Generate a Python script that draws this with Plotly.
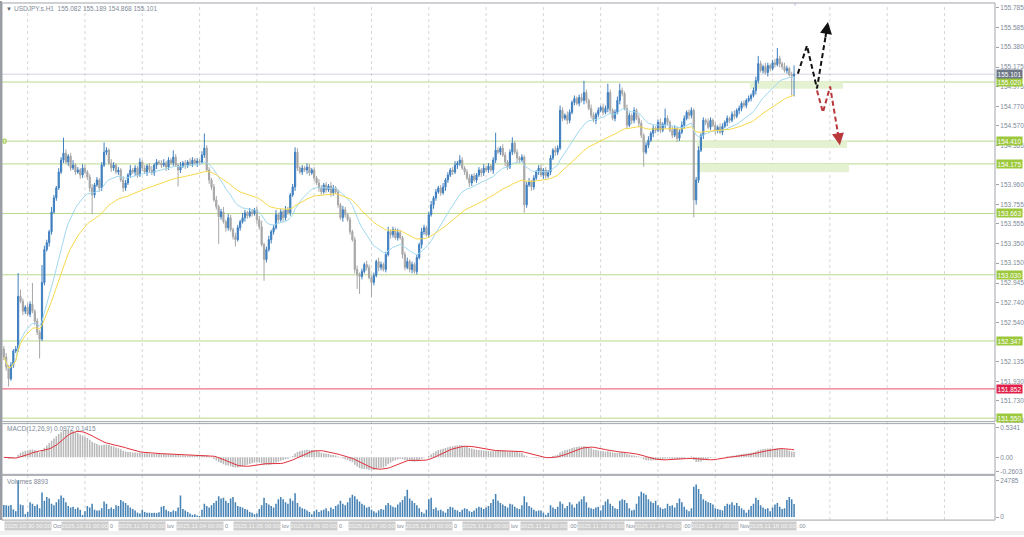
import pandas as pd
import plotly.graph_objects as go

W, H = 1024, 537
FONT = "Liberation Sans, Arial, sans-serif"

TITLE_TEXT = "USDJPY.s.H1  155.082 155.189 154.868 155.101"
MACD_TEXT = "MACD(12,26,9) 0.0972 0.1415"
VOLUME_TEXT = "Volumes 8893"

DAYS = ["2025.10.30", "2025.10.31", "2025.11.03", "2025.11.04", "2025.11.05", "2025.11.06",
        "2025.11.07", "2025.11.10", "2025.11.11", "2025.11.12", "2025.11.13", "2025.11.14",
        "2025.11.17", "2025.11.18"]
DAY_TAILS = ["Oct 0", "0", "lov", "0", "lov", "0", "lov", "0", "lov", ":00", "Nov", ":00", "Nov", ":00"]
BARS_PER_DAY = 24

FIRST_OPEN = 152.264
CLOSE = [
    152.181, 152.079, 151.956, 152.099, 152.243, 152.264, 152.808, 152.756, 152.654, 152.695, 152.623, 152.726,
    152.654, 152.551, 152.438, 152.366, 152.951, 153.290, 153.362, 153.475, 153.680, 153.824, 153.927, 154.091,
    154.214, 154.286, 154.194, 154.255, 154.132, 154.163, 154.091, 154.112, 154.060, 154.132, 154.091, 154.040,
    153.927, 153.855, 153.958, 154.009, 153.927, 154.163, 154.296, 154.317, 154.184, 154.132, 154.163, 154.091,
    154.112, 154.009, 153.927, 153.978, 154.060, 154.112, 154.091, 154.132, 154.060, 154.194, 154.132, 154.091,
    154.153, 154.112, 154.081, 154.163, 154.194, 154.184, 154.163, 154.184, 154.142, 154.214, 154.184, 154.245,
    154.163, 154.112, 154.153, 154.184, 154.163, 154.194, 154.173, 154.214, 154.184, 154.204, 154.194, 154.266,
    154.338, 154.112, 154.009, 153.937, 153.804, 153.732, 153.629, 153.680, 153.578, 153.516, 153.619, 153.496,
    153.424, 153.393, 153.516, 153.578, 153.619, 153.670, 153.639, 153.680, 153.660, 153.701, 153.598, 153.526,
    153.342, 153.188, 153.290, 153.393, 153.475, 153.516, 153.650, 153.598, 153.680, 153.619, 153.701, 153.670,
    153.855, 153.937, 154.296, 154.132, 154.091, 154.132, 154.112, 154.142, 154.081, 154.112, 154.029, 153.978,
    153.927, 153.886, 153.958, 153.906, 153.947, 153.876, 153.927, 153.886, 153.752, 153.619, 153.701, 153.650,
    153.598, 153.475, 153.393, 153.085, 153.034, 153.013, 153.064, 153.136, 153.106, 153.003, 152.951, 153.023,
    153.167, 153.106, 153.136, 153.085, 153.239, 153.475, 153.444, 153.496, 153.413, 153.465, 153.413, 153.239,
    153.106, 153.167, 153.085, 153.136, 153.064, 153.208, 153.342, 153.475, 153.516, 153.444, 153.650, 153.752,
    153.824, 153.886, 153.927, 153.876, 153.937, 154.009, 154.060, 154.112, 154.091, 154.163, 154.184, 154.214,
    154.132, 154.091, 154.029, 153.978, 154.050, 154.009, 154.060, 154.112, 154.081, 154.132, 154.112, 154.153,
    154.112, 154.214, 154.317, 154.296, 154.338, 154.266, 154.194, 154.142, 154.296, 154.389, 154.296, 154.235,
    154.214, 154.245, 153.752, 153.958, 153.988, 153.937, 154.029, 154.091, 154.132, 154.060, 154.112, 154.050,
    154.091, 154.235, 154.317, 154.296, 154.338, 154.728, 154.645, 154.676, 154.625, 154.707, 154.810, 154.851,
    154.800, 154.861, 154.830, 154.912, 154.830, 154.748, 154.676, 154.625, 154.687, 154.728, 154.758, 154.707,
    154.748, 154.912, 154.728, 154.645, 154.707, 154.830, 154.933, 154.902, 154.748, 154.574, 154.676, 154.625,
    154.728, 154.645, 154.594, 154.471, 154.296, 154.368, 154.420, 154.491, 154.543, 154.522, 154.604, 154.522,
    154.584, 154.645, 154.604, 154.522, 154.471, 154.543, 154.440, 154.502, 154.574, 154.645, 154.707, 154.676,
    154.728, 153.804, 154.009, 154.317, 154.471, 154.625, 154.604, 154.553, 154.625, 154.574, 154.522, 154.553,
    154.502, 154.563, 154.604, 154.645, 154.625, 154.687, 154.666, 154.728, 154.748, 154.800, 154.779, 154.830,
    154.851, 154.882, 154.933, 155.036, 155.210, 155.138, 155.179, 155.118, 155.190, 155.159, 155.220, 155.200,
    155.262, 155.210, 155.179, 155.138, 155.159, 155.097, 155.082, 155.101,
]
# wick lengths, in hundredths of a yen
WICK_UP = [
    3, 4, 2, 3, 2, 3, 24, 7, 3, 2, 4, 3, 22, 2, 3, 2, 18, 4, 3, 2, 5, 3, 2, 4,
    3, 16, 4, 2, 3, 5, 2, 3, 2, 4, 3, 2, 3, 4, 2, 3, 2, 3, 10, 3, 2, 4, 3, 2,
    3, 2, 4, 3, 2, 5, 2, 3, 2, 4, 2, 3, 2, 3, 4, 2, 3, 2, 3, 4, 2, 3, 2, 7,
    3, 2, 4, 2, 3, 2, 4, 3, 2, 3, 2, 4, 15, 3, 3, 2, 3, 4, 2, 3, 5, 2, 4, 3,
    2, 4, 3, 2, 5, 3, 2, 4, 3, 2, 3, 4, 6, 2, 3, 4, 2, 3, 5, 2, 3, 2, 4, 3,
    2, 3, 5, 4, 2, 3, 2, 4, 3, 2, 3, 2, 4, 3, 2, 3, 2, 4, 3, 2, 3, 2, 4, 3,
    2, 3, 2, 3, 4, 2, 3, 2, 4, 3, 2, 3, 2, 4, 3, 2, 3, 5, 2, 3, 2, 4, 3, 2,
    3, 4, 2, 3, 2, 3, 2, 4, 3, 2, 3, 4, 2, 3, 2, 3, 4, 2, 3, 2, 3, 4, 2, 5,
    3, 2, 3, 4, 2, 3, 2, 3, 2, 4, 2, 3, 2, 3, 18, 3, 2, 4, 3, 2, 3, 6, 2, 3,
    2, 3, 2, 3, 4, 2, 3, 2, 3, 4, 2, 3, 2, 3, 2, 4, 3, 5, 3, 2, 4, 3, 2, 3,
    2, 3, 4, 12, 3, 2, 4, 3, 2, 3, 2, 4, 3, 9, 3, 2, 3, 4, 7, 3, 2, 4, 3, 2,
    3, 2, 4, 3, 2, 3, 4, 2, 3, 2, 3, 4, 2, 10, 3, 2, 4, 3, 2, 3, 4, 3, 2, 3,
    3, 2, 3, 4, 2, 3, 2, 4, 3, 2, 3, 2, 4, 3, 2, 3, 2, 3, 4, 2, 3, 2, 3, 2,
    3, 2, 3, 4, 8, 3, 2, 4, 3, 2, 3, 4, 11, 3, 2, 4, 3, 2, 3, 9,
]
WICK_DN = [
    3, 4, 8, 2, 3, 2, 3, 2, 4, 3, 2, 3, 2, 4, 3, 20, 2, 3, 2, 4, 3, 2, 3, 2,
    2, 3, 2, 4, 3, 2, 3, 2, 4, 3, 2, 3, 4, 20, 3, 2, 4, 3, 2, 3, 2, 4, 3, 2,
    3, 2, 4, 3, 2, 3, 2, 4, 3, 2, 3, 2, 4, 3, 2, 3, 4, 2, 3, 2, 4, 3, 2, 3,
    2, 17, 3, 2, 4, 3, 2, 3, 2, 4, 3, 2, 3, 2, 4, 3, 2, 3, 28, 3, 2, 4, 3, 2,
    3, 7, 2, 3, 2, 4, 3, 2, 3, 2, 4, 3, 2, 22, 3, 2, 4, 3, 2, 3, 2, 4, 3, 2,
    3, 2, 4, 3, 2, 3, 2, 4, 3, 2, 3, 2, 4, 3, 2, 3, 2, 4, 3, 2, 3, 2, 4, 3,
    2, 3, 2, 4, 15, 18, 3, 2, 3, 2, 15, 3, 2, 4, 3, 2, 3, 2, 4, 3, 2, 3, 2, 4,
    3, 2, 3, 4, 2, 3, 2, 4, 3, 2, 3, 2, 4, 3, 2, 3, 2, 4, 3, 2, 3, 2, 4, 3,
    2, 3, 2, 4, 3, 2, 3, 2, 4, 3, 2, 3, 2, 4, 3, 2, 3, 2, 4, 3, 2, 3, 2, 4,
    3, 2, 8, 3, 2, 4, 3, 2, 3, 2, 4, 3, 2, 3, 2, 4, 3, 2, 3, 2, 4, 3, 2, 3,
    2, 3, 2, 4, 3, 2, 3, 2, 4, 3, 2, 3, 2, 4, 3, 2, 3, 2, 4, 3, 2, 3, 2, 4,
    3, 2, 4, 3, 15, 2, 3, 2, 4, 3, 2, 3, 2, 4, 3, 2, 3, 2, 4, 3, 2, 3, 2, 4,
    3, 18, 5, 3, 2, 4, 3, 2, 3, 2, 4, 3, 2, 3, 2, 4, 3, 2, 3, 2, 4, 3, 2, 3,
    2, 3, 2, 4, 3, 2, 3, 2, 4, 3, 2, 3, 2, 4, 3, 2, 3, 2, 20, 21,
]
VOLUME = [
    8200, 7900, 7600, 8100, 5200, 4000, 24785, 8500, 8000, 2000, 3500, 10000, 9000, 7500, 8500, 6000, 16500, 11000, 13500, 12500, 9000, 8000, 10000, 12000,
    14500, 13000, 10000, 7500, 6500, 7000, 5500, 6500, 5000, 1500, 4000, 7500, 6500, 9000, 5000, 4500, 4500, 6000, 10500, 9000, 5500, 6500, 5500, 8000,
    7500, 11500, 10500, 9500, 8000, 6500, 5500, 4500, 3000, 2500, 5000, 3500, 3000, 3000, 2800, 3000, 2700, 3200, 7000, 7500, 5000, 4000, 3500, 4500,
    4000, 6500, 14500, 5500, 4500, 3500, 2500, 1500, 2000, 1000, 800, 5000, 9000, 7500, 6500, 8000, 9500, 11000, 14000, 12500, 13000, 11000, 9500, 12500,
    13500, 10000, 7500, 7000, 6500, 5500, 5000, 3500, 3000, 2000, 2500, 5500, 8000, 13000, 9500, 8500, 7500, 6500, 9000, 12000, 13500, 12000, 10000, 9000,
    12500, 11000, 16000, 9500, 7000, 6000, 5500, 4500, 3500, 2000, 4000, 5000, 3500, 4500, 5000, 6000, 4000, 6500, 5500, 7500, 8500, 11000, 9000, 8000,
    10000, 13000, 15000, 14000, 12000, 10500, 9000, 8000, 6500, 7000, 5000, 4000, 3000, 4500, 5500, 5000, 8000, 9500, 8000, 7000, 6500, 8500, 10000, 11500,
    14000, 18500, 12500, 11000, 9500, 8000, 6000, 3500, 2500, 5000, 12000, 13000, 5500, 6500, 4500, 5000, 4000, 3000, 5500, 7000, 6500, 5000, 4500, 3500,
    5000, 6000, 5500, 4000, 3500, 4500, 6000, 7000, 6500, 5500, 6500, 7500, 9500, 12000, 15500, 11000, 9500, 8500, 7500, 6500, 9000, 8500, 7000, 6000,
    5500, 8000, 14000, 10000, 7500, 6500, 5000, 4000, 4500, 4500, 3000, 1500, 3000, 8000, 6500, 5500, 7000, 10500, 9000, 6000, 7500, 10000, 8500, 6500,
    9000, 10500, 12000, 14000, 10000, 6500, 6000, 5500, 6500, 7000, 4500, 8000, 10500, 12000, 9000, 7500, 6000, 5500, 11000, 12000, 11500, 9500, 6000, 4500,
    5000, 9000, 14000, 17000, 16000, 15000, 12000, 10500, 9500, 11000, 8000, 6500, 5500, 6000, 9000, 7500, 8000, 6500, 9500, 12500, 10000, 7000, 5000, 4000,
    6000, 20500, 22000, 19000, 15500, 12000, 11000, 10000, 9500, 8500, 6000, 5500, 5000, 4500, 7500, 9000, 8500, 10000, 8000, 9500, 7500, 6000, 5000, 3000,
    5000, 7500, 9000, 13000, 11500, 8000, 6500, 5500, 6000, 4000, 6500, 8500, 9500, 7000, 5500, 6000, 11500, 13500, 12000, 8893,
]

GREEN_LEVELS = [155.020, 154.410, 154.175, 153.663, 153.030, 152.347, 151.550]
RED_LEVEL = 151.852
LAST_PRICE = 155.101
PRICE_TICKS = [155.785, 155.585, 155.380, 155.175, 154.975, 154.770, 154.570, 154.365, 153.960,
               153.755, 153.555, 153.350, 153.150, 152.945, 152.740, 152.540, 152.135, 151.930,
               151.730, 151.525]
MACD_TICKS = [0.5341, 0.0, -0.2603]
MACD_TICK_TEXT = ["0.5341", "0.00", "-0.2603"]
VOL_TICKS = [24785, 0]

# analyst drawings (bar index, price)
ZONES = [(312.5, 351.5, 155.020, 154.950), (290.3, 353.2, 154.410, 154.340), (290.3, 354.0, 154.175, 154.090)]
ARROW_BLACK = ([332.6, 336.4, 340.6, 345.2], [155.107, 155.395, 154.954, 155.641])
ARROW_RED = ([340.6, 343.1, 346.1, 350.2], [154.933, 154.707, 154.974, 154.368])

# ---------------- derived series ----------------
n = len(CLOSE)
idx = list(range(n))
OPEN = [FIRST_OPEN] + CLOSE[:-1]
HIGH = [max(o, c) + u / 100 for o, c, u in zip(OPEN, CLOSE, WICK_UP)]
LOW = [min(o, c) - d / 100 for o, c, d in zip(OPEN, CLOSE, WICK_DN)]
cs = pd.Series(CLOSE)
ma_fast = cs.ewm(span=20, adjust=True).mean()
ma_slow = cs.ewm(span=50, adjust=True).mean()
macd = cs.ewm(span=12, adjust=False).mean() - cs.ewm(span=26, adjust=False).mean()
signal = macd.rolling(9, min_periods=1).mean()

# ---------------- geometry (pixels) ----------------
BAR_PX = 2.3875
BAR0_PX = 3.8
PLOT_L, PLOT_R = 2, 995
X_RANGE = [(PLOT_L - BAR0_PX) / BAR_PX, (PLOT_R - BAR0_PX) / BAR_PX]
MAIN_T, MAIN_B = 3, 423
MACD_T, MACD_B = 426, 476
VOL_T, VOL_B = 478, 522


def fx(px):
    return px / W


def fy(py):
    return 1 - py / H


Y_RANGE = [151.514, 155.826]
MACD_RANGE = [-0.305, 0.5877]
VOL_RANGE = [-2010, 27465]

GREEN = "#b9d98c"
GREEN_BOX = "#9cc83c"
TICK_COL = "#808a99"

fig = go.Figure()
fig.add_trace(go.Candlestick(
    x=idx, open=OPEN, high=HIGH, low=LOW, close=CLOSE,
    increasing=dict(line=dict(color="#3f7fbf", width=1), fillcolor="#3f7fbf"),
    decreasing=dict(line=dict(color="#a6a6a6", width=1), fillcolor="#a6a6a6"),
    whiskerwidth=0, xaxis="x", yaxis="y", hoverinfo="skip"))
fig.add_trace(go.Scatter(x=idx, y=ma_fast, mode="lines", line=dict(color="#9fd8f0", width=1),
                         xaxis="x", yaxis="y", hoverinfo="skip"))
fig.add_trace(go.Scatter(x=idx, y=ma_slow, mode="lines", line=dict(color="#f7d84a", width=1),
                         xaxis="x", yaxis="y", hoverinfo="skip"))

# drawings
for xs, ys, col in [(ARROW_BLACK[0], ARROW_BLACK[1], "#111111"), (ARROW_RED[0], ARROW_RED[1], "#b8383b")]:
    fig.add_trace(go.Scatter(x=xs[:-1] + [xs[-2] + 0.8 * (xs[-1] - xs[-2])],
                             y=ys[:-1] + [ys[-2] + 0.8 * (ys[-1] - ys[-2])],
                             mode="lines", line=dict(color=col, width=2, dash="5px,3px"),
                             xaxis="x", yaxis="y", hoverinfo="skip"))

fig.add_trace(go.Bar(x=idx, y=macd, marker=dict(color="#b8b8b8", line=dict(width=0)),
                     xaxis="x2", yaxis="y2", hoverinfo="skip"))
fig.add_trace(go.Scatter(x=idx, y=signal, mode="lines", line=dict(color="#e0303a", width=1),
                         xaxis="x2", yaxis="y2", hoverinfo="skip"))
fig.add_trace(go.Bar(x=idx, y=VOLUME, marker=dict(color="#4682b4", line=dict(width=0)),
                     xaxis="x3", yaxis="y3", hoverinfo="skip"))

shapes = []
# vertical dashed grid every day (time grid)
for k in range(17):
    gx = 10 + BARS_PER_DAY * k
    shapes.append(dict(type="line", xref="x", yref="paper", x0=gx, x1=gx, y0=fy(VOL_B), y1=fy(MAIN_T),
                       line=dict(color="#d6d6d6", width=1, dash="3px,3px"), layer="below"))
# zones
for x0, x1, p0, p1 in ZONES:
    shapes.append(dict(type="rect", xref="x", yref="y", x0=x0, x1=x1, y0=p1, y1=p0,
                       fillcolor="#e4f2d2", line=dict(width=0), layer="below"))
# levels
for lv in GREEN_LEVELS:
    shapes.append(dict(type="line", xref="paper", yref="y", x0=fx(PLOT_L), x1=fx(PLOT_R), y0=lv, y1=lv,
                       line=dict(color=GREEN, width=1), layer="below"))
shapes.append(dict(type="line", xref="paper", yref="y", x0=fx(PLOT_L), x1=fx(PLOT_R), y0=RED_LEVEL,
                   y1=RED_LEVEL, line=dict(color="#e8506a", width=1), layer="below"))
shapes.append(dict(type="line", xref="paper", yref="y", x0=fx(PLOT_L), x1=fx(PLOT_R), y0=LAST_PRICE,
                   y1=LAST_PRICE, line=dict(color="#d4d4e4", width=1), layer="below"))
shapes.append(dict(type="rect", xref="paper", yref="y", x0=fx(3), x1=fx(6), y0=GREEN_LEVELS[1] - 0.02,
                   y1=GREEN_LEVELS[1] + 0.02, line=dict(color="#9cc83c", width=1)))
# panel frames
for t, b in [(MAIN_T - 1, MAIN_B), (MACD_T - 1, MACD_B), (VOL_T - 1, VOL_B)]:
    shapes.append(dict(type="rect", xref="paper", yref="paper", x0=fx(PLOT_L), x1=fx(PLOT_R),
                       y0=fy(b), y1=fy(t), line=dict(color="#a0a4aa", width=1)))
shapes.append(dict(type="rect", xref="paper", yref="paper", x0=0, x1=fx(2), y0=fy(VOL_B), y1=1,
                   fillcolor="#9a9ea4", line=dict(width=0)))
shapes.append(dict(type="rect", xref="paper", yref="paper", x0=0, x1=1, y0=0, y1=fy(533),
                   fillcolor="#f0f0f0", line=dict(width=0)))

ann = []
small = dict(family=FONT, size=6.5, color=TICK_COL)
ann.append(dict(xref="paper", yref="paper", x=fx(4), y=fy(8), text="▼", showarrow=False,
                xanchor="left", yanchor="middle", font=dict(family=FONT, size=6, color="#606870")))
ann.append(dict(xref="paper", yref="paper", x=fx(12), y=fy(8), text=TITLE_TEXT, showarrow=False,
                xanchor="left", yanchor="middle", font=small))
ann.append(dict(xref="paper", yref="paper", x=fx(5), y=fy(430), text=MACD_TEXT, showarrow=False,
                xanchor="left", yanchor="middle", font=small))
ann.append(dict(xref="paper", yref="paper", x=fx(5), y=fy(483), text=VOLUME_TEXT, showarrow=False,
                xanchor="left", yanchor="middle", font=small))
ann.append(dict(xref="paper", yref="paper", x=fx(795), y=fy(3), text="▼", showarrow=False,
                xanchor="center", yanchor="middle", font=dict(family=FONT, size=6, color="#c9c9e2")))

# price label boxes
for lv in GREEN_LEVELS:
    ann.append(dict(xref="paper", yref="y", x=fx(PLOT_R + 1), y=lv, text=f"{lv:.3f}", showarrow=False,
                    xanchor="left", yanchor="middle", bgcolor=GREEN_BOX, width=25, height=8, borderpad=0,
                    font=dict(family=FONT, size=6.5, color="white")))
ann.append(dict(xref="paper", yref="y", x=fx(PLOT_R + 1), y=RED_LEVEL, text=f"{RED_LEVEL:.3f}", showarrow=False,
                xanchor="left", yanchor="middle", bgcolor="#e0204a", width=25, height=8, borderpad=0,
                font=dict(family=FONT, size=6.5, color="white")))
ann.append(dict(xref="paper", yref="y", x=fx(PLOT_R + 1), y=LAST_PRICE, text=f"{LAST_PRICE:.3f}", showarrow=False,
                xanchor="left", yanchor="middle", bgcolor="#6d7686", width=25, height=8, borderpad=0,
                font=dict(family=FONT, size=6.5, color="white")))

# arrow heads
for xs, ys, col in [(ARROW_BLACK[0], ARROW_BLACK[1], "#111111"), (ARROW_RED[0], ARROW_RED[1], "#b8383b")]:
    ann.append(dict(xref="x", yref="y", axref="x", ayref="y", x=xs[-1], y=ys[-1],
                    ax=xs[-2] + 0.75 * (xs[-1] - xs[-2]), ay=ys[-2] + 0.75 * (ys[-1] - ys[-2]),
                    showarrow=True, arrowhead=2, arrowsize=1.2, arrowwidth=2, arrowcolor=col, text=""))

# date boxes along the time scale
for i, (d, tail) in enumerate(zip(DAYS, DAY_TAILS)):
    bx = i * BARS_PER_DAY
    ann.append(dict(xref="x3", yref="paper", x=bx + 47 / BAR_PX, y=fy(528), text=tail, showarrow=False,
                    xanchor="left", yanchor="middle",
                    font=dict(family=FONT, size=5.5, color=TICK_COL)))
for i, d in enumerate(DAYS):
    bx = i * BARS_PER_DAY
    ann.append(dict(xref="x3", yref="paper", x=bx, y=fy(528), text=f"{d} 00:00", showarrow=False,
                    xanchor="left", yanchor="middle", bgcolor="#cdcdcd", width=46, height=8, borderpad=0,
                    font=dict(family=FONT, size=6, color="#f4f4f4")))

axis_common = dict(showgrid=False, zeroline=False, showline=False)
fig.update_layout(
    width=W, height=H, margin=dict(l=0, r=0, t=0, b=0),
    paper_bgcolor="white", plot_bgcolor="white", showlegend=False,
    bargap=0.35, font=dict(family=FONT),
    xaxis=dict(domain=[fx(PLOT_L), fx(PLOT_R)], range=X_RANGE, showticklabels=False,
               rangeslider=dict(visible=False), anchor="y", **axis_common),
    yaxis=dict(domain=[fy(MAIN_B), fy(MAIN_T)], range=Y_RANGE, side="right", anchor="x",
               tickvals=PRICE_TICKS, ticktext=[f"{v:.3f}" for v in PRICE_TICKS],
               ticks="outside", ticklen=3, tickcolor="#a0a4aa", tickfont=small, **axis_common),
    xaxis2=dict(domain=[fx(PLOT_L), fx(PLOT_R)], range=X_RANGE, showticklabels=False, anchor="y2",
                matches="x", **axis_common),
    yaxis2=dict(domain=[fy(MACD_B), fy(MACD_T)], range=MACD_RANGE, side="right", anchor="x2",
                tickvals=MACD_TICKS, ticktext=MACD_TICK_TEXT, ticks="outside", ticklen=3,
                tickcolor="#a0a4aa", tickfont=small, **axis_common),
    xaxis3=dict(domain=[fx(PLOT_L), fx(PLOT_R)], range=X_RANGE, showticklabels=False, anchor="y3",
                matches="x", **axis_common),
    yaxis3=dict(domain=[fy(VOL_B), fy(VOL_T)], range=VOL_RANGE, side="right", anchor="x3",
                tickvals=VOL_TICKS, ticktext=[str(v) for v in VOL_TICKS], ticks="outside", ticklen=3,
                tickcolor="#a0a4aa", tickfont=small, **axis_common),
    shapes=shapes, annotations=ann,
)
fig.write_html("out.html", config={"displayModeBar": False, "staticPlot": True},
               post_script="document.body.style.margin='0';document.body.style.overflow='hidden';")
